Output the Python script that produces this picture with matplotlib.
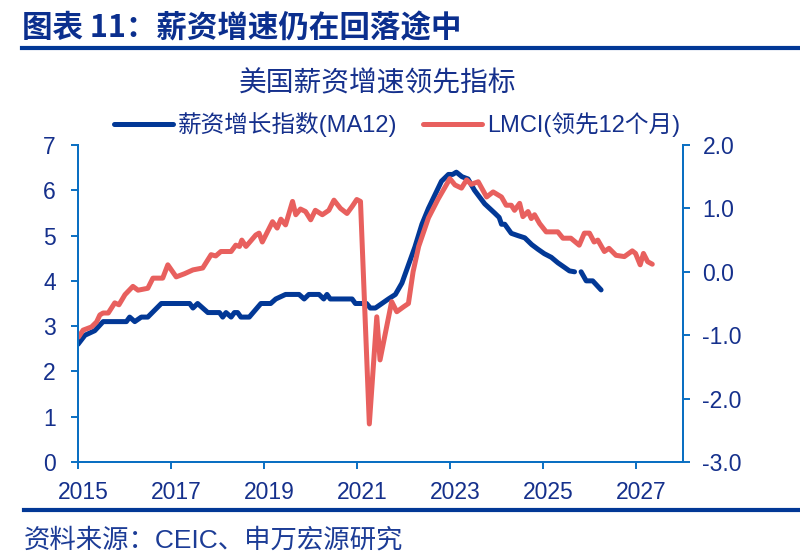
import numpy as np
import matplotlib
matplotlib.use("Agg")
import matplotlib.pyplot as plt
from matplotlib.lines import Line2D
from matplotlib.transforms import ScaledTranslation

plt.rcParams['font.family'] = ['Liberation Sans', 'Noto Sans CJK SC']
plt.rcParams['axes.unicode_minus'] = False

# 薪资增长指数(MA12), left axis
wage_t = [2015.00, 2015.15, 2015.36, 2015.54, 2016.04, 2016.11, 2016.22, 2016.36, 2016.50, 2016.79,
          2017.40, 2017.47, 2017.57, 2017.79, 2018.04, 2018.11, 2018.18, 2018.29, 2018.36, 2018.43,
          2018.50, 2018.68, 2018.93, 2019.14, 2019.25, 2019.46, 2019.75, 2019.86, 2019.96, 2020.18,
          2020.28, 2020.35, 2020.42, 2020.89, 2020.96, 2021.20, 2021.28, 2021.39, 2021.53, 2021.67,
          2021.82, 2021.96, 2022.10, 2022.24, 2022.39, 2022.53, 2022.67, 2022.81, 2022.96, 2023.05,
          2023.13, 2023.25, 2023.38, 2023.52, 2023.63, 2023.74, 2023.95, 2024.05, 2024.10, 2024.17,
          2024.31, 2024.45, 2024.60, 2024.75, 2024.88, 2025.02, 2025.17, 2025.31, 2025.45, 2025.56,
          2025.67, 2025.74, 2025.81, 2025.92, 2026.06, 2026.24]
wage_v = [2.60, 2.80, 2.90, 3.10, 3.10, 3.20, 3.10, 3.20, 3.20, 3.50,
          3.50, 3.40, 3.50, 3.30, 3.30, 3.20, 3.30, 3.20, 3.30, 3.30,
          3.20, 3.20, 3.50, 3.50, 3.60, 3.70, 3.70, 3.60, 3.70, 3.70,
          3.60, 3.70, 3.60, 3.60, 3.50, 3.50, 3.40, 3.40, 3.50, 3.60,
          3.70, 3.95, 4.35, 4.75, 5.25, 5.60, 5.90, 6.20, 6.35, 6.35,
          6.40, 6.30, 6.25, 6.00, 5.85, 5.70, 5.50, 5.40, 5.25, 5.25,
          5.05, 5.00, 4.95, 4.80, 4.70, 4.60, 4.52, 4.40, 4.30, 4.22,
          4.20, np.nan, 4.20, 4.00, 4.00, 3.80]

# LMCI(领先12个月), right axis
lmci_t = [2015.01, 2015.11, 2015.29, 2015.40, 2015.47, 2015.54, 2015.65, 2015.79, 2015.88, 2016.01,
          2016.18, 2016.29, 2016.50, 2016.61, 2016.82, 2016.93, 2017.11, 2017.29, 2017.47, 2017.68,
          2017.86, 2017.96, 2018.07, 2018.29, 2018.39, 2018.47, 2018.52, 2018.61, 2018.82, 2018.89,
          2018.96, 2019.18, 2019.28, 2019.36, 2019.46, 2019.61, 2019.68, 2019.78, 2019.89, 2020.00,
          2020.10, 2020.25, 2020.39, 2020.50, 2020.64, 2020.78, 2020.89, 2020.99, 2021.07, 2021.26,
          2021.42, 2021.49, 2021.74, 2021.85, 2022.00, 2022.10, 2022.20, 2022.32, 2022.53, 2022.74,
          2022.89, 2022.99, 2023.10, 2023.24, 2023.35, 2023.45, 2023.60, 2023.78, 2023.92, 2024.10,
          2024.20, 2024.31, 2024.38, 2024.49, 2024.56, 2024.67, 2024.74, 2024.81, 2024.92, 2025.06,
          2025.20, 2025.31, 2025.42, 2025.59, 2025.77, 2025.88, 2025.99, 2026.09, 2026.17, 2026.31,
          2026.41, 2026.56, 2026.74, 2026.91, 2026.98, 2027.08, 2027.15, 2027.24, 2027.34]
lmci_v = [-1.03, -0.92, -0.87, -0.79, -0.68, -0.65, -0.65, -0.49, -0.52, -0.36,
          -0.23, -0.29, -0.26, -0.10, -0.10, 0.11, -0.08, -0.03, 0.03, 0.06,
          0.27, 0.25, 0.32, 0.32, 0.42, 0.40, 0.50, 0.40, 0.58, 0.61,
          0.47, 0.79, 0.69, 0.83, 0.74, 1.11, 0.90, 0.99, 0.95, 0.82,
          0.97, 0.90, 0.97, 1.13, 1.00, 0.92, 1.03, 1.14, 1.11, -2.40,
          -0.71, -1.39, -0.47, -0.63, -0.55, -0.50, 0.00, 0.40, 0.85, 1.15,
          1.34, 1.47, 1.37, 1.32, 1.45, 1.38, 1.42, 1.18, 1.26, 1.18,
          1.05, 1.05, 0.97, 1.08, 0.87, 0.95, 0.84, 0.90, 0.76, 0.63,
          0.63, 0.63, 0.53, 0.53, 0.42, 0.61, 0.61, 0.47, 0.50, 0.32,
          0.37, 0.26, 0.24, 0.33, 0.29, 0.11, 0.29, 0.16, 0.12]

years = [2015, 2017, 2019, 2021, 2023, 2025, 2027]
left_ticks = [0, 1, 2, 3, 4, 5, 6, 7]
right_ticks = [-3.0, -2.0, -1.0, 0.0, 1.0, 2.0]

navy = '#15308c'
spine_c = '#0a6fc2'
blue = '#023896'
red = '#e8605e'

fig = plt.figure(figsize=(8, 5.56), dpi=100)
ax = fig.add_axes([78 / 800, 1 - 462 / 556, 605 / 800, 317 / 556])
ax2 = ax.twinx()

l1, = ax.plot(wage_t, wage_v, color=blue, lw=3.6, solid_capstyle='round',
              solid_joinstyle='round', label='薪资增长指数(MA12)')
l2, = ax2.plot(lmci_t, lmci_v, color=red, lw=3.6, solid_capstyle='round',
               solid_joinstyle='round', label='LMCI(领先12个月)')

ax.set_xlim(2015, 2028)
ax.set_ylim(0, 7)
ax2.set_ylim(-3, 2)
ax.set_xticks(years)
ax.set_xticklabels([str(y) for y in years])
ax.set_yticks(left_ticks)
ax2.set_yticks(right_ticks)
ax2.set_yticklabels(['%.1f' % v for v in right_ticks])

for a in (ax, ax2):
    a.spines['top'].set_visible(False)
    for s in ('left', 'right', 'bottom'):
        a.spines[s].set_color(spine_c)
        a.spines[s].set_linewidth(1.4)
    a.tick_params(colors=spine_c, labelcolor=navy, labelsize=16.5, length=5, width=1.4)
ax.tick_params(axis='y', pad=11)
ax.tick_params(axis='x', pad=9)
ax2.tick_params(axis='y', pad=9)

# year labels sit a little right of their ticks in the original
shift = ScaledTranslation(5 / 100, 0, fig.dpi_scale_trans)
for lab in ax.get_xticklabels():
    lab.set_transform(lab.get_transform() + shift)

fig.legend(handles=[l1, l2], loc='center', bbox_to_anchor=(397 / 800, 1 - 125 / 556),
           ncol=2, frameon=False, fontsize=17, labelcolor=navy, handlelength=2.5,
           handletextpad=0.2, columnspacing=1.1, borderaxespad=0)

fig.text(378 / 800, 1 - 84 / 556, '美国薪资增速领先指标', ha='center', va='center',
         fontsize=20, color=navy)

fig.text(22 / 800, 1 - 28 / 556, '图表 11：薪资增速仍在回落途中', ha='left', va='center',
         fontsize=22, fontweight='bold', color='#0b2f8e', family=['Noto Sans CJK SC'])
fig.add_artist(Line2D([22 / 800, 1], [1 - 48 / 556] * 2, color='#023896', lw=3))
fig.add_artist(Line2D([24 / 800, 1], [1 - 510 / 556] * 2, color='#023896', lw=3))
fig.text(24 / 800, 1 - 540 / 556, '资料来源：CEIC、申万宏源研究', ha='left', va='center',
         fontsize=19, color='#1c3c96')

fig.savefig('out.png', dpi=100)
